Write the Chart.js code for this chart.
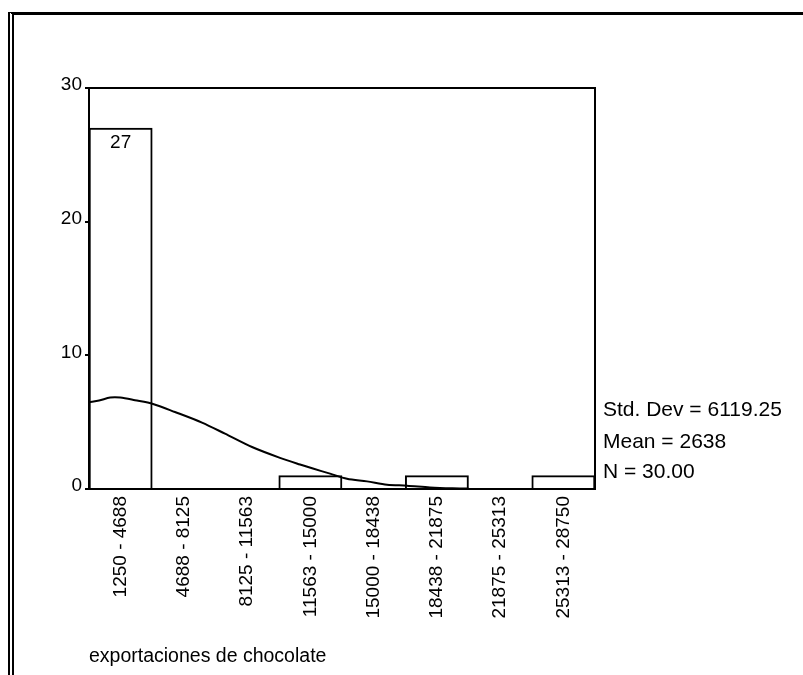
<!DOCTYPE html>
<html>
<head>
<meta charset="utf-8">
<script src="https://cdn.jsdelivr.net/npm/chart.js@4"></script>
<style>
  html, body { margin: 0; padding: 0; background: #fff; }
  #wrap { position: relative; width: 803px; height: 675px; overflow: hidden; }
  #frame {
    position: absolute; left: 8px; top: 12px; width: 795px; height: 663px;
    border-top: 3px solid #000; border-left: 6px double #000; box-sizing: border-box;
  }
  #chart { position: absolute; left: 0; top: 0; }
</style>
</head>
<body>
<div id="wrap">
  <div id="frame"></div>
  <canvas id="chart" width="803" height="675"></canvas>
</div>
<script>
// intervalos del histograma
const bins = ['1250 - 4688', '4688 - 8125', '8125 - 11563', '11563 - 15000',
              '15000 - 18438', '18438 - 21875', '21875 - 25313', '25313 - 28750'];
const counts = [27, 0, 0, 1, 0, 1, 0, 1];

// curva normal (x en unidades de la variable)
const curveX = [1250, 1800, 2400, 2950, 3750, 4730, 5920, 7390, 8640, 10110, 11630,
                12720, 13420, 14350, 15270, 16360, 17450, 18530, 19780, 21000, 21875];
const curveY = [6.5, 6.62, 6.84, 6.84, 6.64, 6.36, 5.76, 4.97, 4.14, 3.14, 2.33,
                1.83, 1.53, 1.15, 0.77, 0.57, 0.32, 0.25, 0.12, 0.05, 0.03];

const yTicks = [0, 10, 20, 30];
const statsText = ['Std. Dev = 6119.25', 'Mean = 2638', 'N = 30.00'];
const xTitle = 'exportaciones de chocolate';

const FONT = 'Arial, "Liberation Sans", sans-serif';

// caja del area del grafico, etiqueta de la barra y estadisticos
const extras = {
  id: 'extras',
  afterDraw(chart) {
    const ctx = chart.ctx;
    const a = chart.chartArea;
    ctx.save();
    ctx.strokeStyle = '#000';
    ctx.lineWidth = 2;
    ctx.strokeRect(a.left, a.top, a.right - a.left, a.bottom - a.top);

    // numero dentro de la barra alta
    const meta = chart.getDatasetMeta(1);
    ctx.fillStyle = '#000';
    ctx.font = '19px ' + FONT;
    ctx.textAlign = 'center';
    ctx.textBaseline = 'top';
    meta.data.forEach((bar, i) => {
      if (bar.base - bar.y > 30) {
        ctx.fillText(String(counts[i]), bar.x, bar.y + 5);
      }
    });

    // texto de estadisticos
    ctx.font = '21px ' + FONT;
    ctx.textAlign = 'left';
    ctx.textBaseline = 'alphabetic';
    const offs = [73, 41, 11];
    statsText.forEach((t, i) => {
      ctx.fillText(t, a.right + 8, a.bottom - offs[i]);
    });
    ctx.restore();
  }
};

new Chart(document.getElementById('chart'), {
  type: 'bar',
  data: {
    labels: bins,
    datasets: [
      {
        type: 'line',
        xAxisID: 'xv',
        data: curveX.map((x, i) => ({ x: x, y: curveY[i] })),
        borderColor: '#000',
        borderWidth: 2,
        pointRadius: 0,
        tension: 0.3,
        fill: false,
        order: 0
      },
      {
        type: 'bar',
        xAxisID: 'x',
        data: counts,
        backgroundColor: '#fff',
        borderColor: '#000',
        borderWidth: 2,
        barPercentage: 1,
        categoryPercentage: 1,
        grouped: false,
        order: 1
      }
    ]
  },
  options: {
    responsive: false,
    animation: false,
    devicePixelRatio: 1,
    layout: { padding: { left: 20, top: 88, right: 208, bottom: 0 } },
    plugins: { legend: { display: false }, tooltip: { enabled: false } },
    scales: {
      x: {
        type: 'category',
        offset: true,
        grid: { display: false },
        border: { display: false },
        ticks: {
          minRotation: 90, maxRotation: 90, autoSkip: false,
          padding: -1, color: '#000', font: { family: FONT, size: 19 }
        },
        title: {
          display: true, text: xTitle, align: 'start', color: '#000',
          font: { family: FONT, size: 19.5 }, padding: { top: 4, bottom: 7 }
        },
        afterFit(scale) { scale.height = 675 - 489; }
      },
      xv: {
        type: 'linear',
        display: false,
        offset: false,
        grid: { offset: false },
        min: 1250,
        max: 28750
      },
      y: {
        min: 0, max: 30,
        afterBuildTicks(scale) { scale.ticks = yTicks.map(v => ({ value: v })); },
        grid: { drawOnChartArea: false, drawTicks: true, tickLength: 4, color: '#000', lineWidth: 2 },
        border: { display: false },
        ticks: {
          padding: 3, labelOffset: -3, color: '#000',
          font: { family: FONT, size: 19 }
        },
        afterFit(scale) { scale.width = 89 - 20; }
      }
    }
  },
  plugins: [extras]
});
</script>
</body>
</html>
